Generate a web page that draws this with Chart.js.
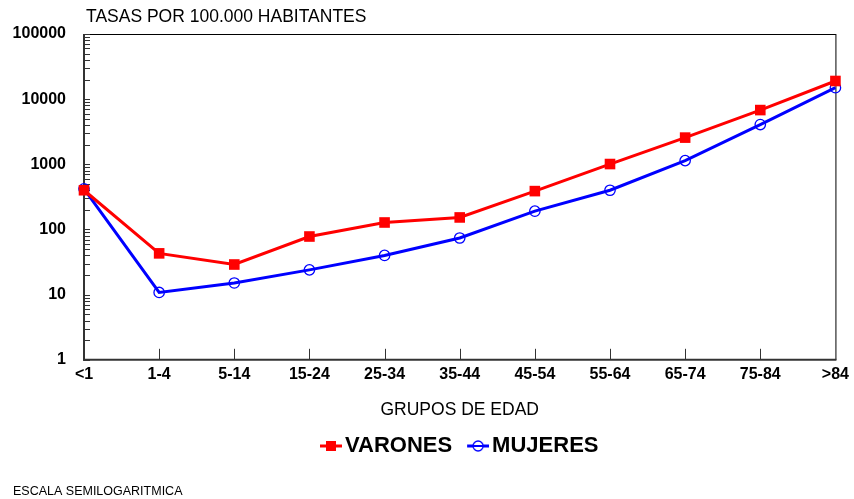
<!DOCTYPE html>
<html>
<head>
<meta charset="utf-8">
<script src="https://cdn.jsdelivr.net/npm/chart.js@4.4.1/dist/chart.umd.min.js"></script>
<style>
  body { margin: 0; background: #fff; }
  canvas { display: block; }
</style>
</head>
<body>
<canvas id="chart" width="854" height="499"></canvas>
<script>
// --- Data ---
const ageGroups = ['<1', '1-4', '5-14', '15-24', '25-34', '35-44', '45-54', '55-64', '65-74', '75-84', '>84'];
const varones = [400, 43, 29, 78, 128, 153, 388, 1010, 2570, 6800, 19000];
const mujeres = [420, 10.8, 15.1, 24, 40, 74, 191, 400, 1140, 4080, 15000];
const yTicks = [1, 10, 100, 1000, 10000, 100000];

const FONT = "'Liberation Sans', Arial, sans-serif";

// legend symbol: line with marker, drawn in the right part of the image
// so that it sits close to the label text
function legendSymbol(color, type) {
    const c = document.createElement('canvas');
    c.width = 37; c.height = 14;
    const g = c.getContext('2d');
    const x0 = 15, cx = 26;
    g.strokeStyle = color;
    g.lineWidth = 3;
    g.beginPath(); g.moveTo(x0, 7); g.lineTo(37, 7); g.stroke();
    if (type === 'square') {
        g.fillStyle = color;
        g.fillRect(cx - 5, 2, 10, 10);
    } else {
        g.lineWidth = 1.3;
        g.fillStyle = '#fff';
        g.beginPath(); g.arc(cx, 7, 5, 0, Math.PI * 2); g.fill(); g.stroke();
        g.lineWidth = 2;
        g.beginPath(); g.moveTo(cx - 5, 7); g.lineTo(cx + 5, 7); g.stroke();
    }
    return c;
}

// frame, inner ticks and loose texts
const framePlugin = {
    id: 'frame',
    afterLayout(chart) {
        // nudge the legend a little to the left, as in the original
        if (chart.legend) {
            chart.legend.left -= 4;
            chart.legend.right -= 4;
        }
    },
    beforeDatasetsDraw(chart) {
        const { ctx, chartArea: a, scales } = chart;
        const x = scales.x, y = scales.y;
        ctx.save();
        const seg = (x1, y1, x2, y2) => { ctx.beginPath(); ctx.moveTo(x1, y1); ctx.lineTo(x2, y2); ctx.stroke(); };

        ctx.strokeStyle = '#000';
        ctx.lineWidth = 1;
        seg(a.left, a.top + 0.5, a.right + 0.5, a.top + 0.5);
        seg(a.right + 0.5, a.top, a.right + 0.5, a.bottom);

        // minor/major ticks on the log axis, pointing inside
        ctx.strokeStyle = '#333';
        for (let d = 1; d < 100000; d *= 10) {
            for (let m = 1; m <= 10; m++) {
                const py = Math.round(y.getPixelForValue(d * m)) + 0.5;
                seg(a.left, py, a.left + 6, py);
            }
        }
        // category ticks
        for (let i = 1; i < ageGroups.length - 1; i++) {
            const px = Math.round(x.getPixelForValue(i)) + 0.5;
            seg(px, a.bottom, px, a.bottom - 11);
        }
        // left and bottom axes
        ctx.lineWidth = 2;
        seg(a.left, a.top, a.left, a.bottom + 1);
        seg(a.left - 1, a.bottom, a.right + 1, a.bottom);
        ctx.restore();
    },
    afterDraw(chart) {
        const ctx = chart.ctx;
        ctx.save();
        ctx.fillStyle = '#000';
        ctx.textBaseline = 'middle';
        ctx.textAlign = 'left';
        ctx.font = '17.5px ' + FONT;
        ctx.fillText('TASAS POR 100.000 HABITANTES', 86, 17);
        ctx.font = '12.5px ' + FONT;
        ctx.fillText('ESCALA SEMILOGARITMICA', 13, 492);
        ctx.restore();
    }
};

new Chart(document.getElementById('chart'), {
    type: 'line',
    data: {
        labels: ageGroups,
        datasets: [{
            label: 'VARONES',
            data: varones,
            borderColor: '#ff0000',
            backgroundColor: '#ff0000',
            borderWidth: 3,
            pointStyle: 'rect',
            pointRadius: 7.5,
            pointBorderWidth: 0,
            pointHoverRadius: 7.5,
            clip: false,
            tension: 0
        }, {
            label: 'MUJERES',
            data: mujeres,
            borderColor: '#0000ff',
            backgroundColor: 'rgba(255,255,255,0)',
            borderWidth: 3,
            pointStyle: 'circle',
            pointRadius: 5.2,
            pointBorderWidth: 1.3,
            pointHoverRadius: 5.2,
            clip: false,
            tension: 0
        }]
    },
    options: {
        responsive: false,
        animation: false,
        layout: { padding: { top: 34, right: 15, left: 0, bottom: 32 } },
        plugins: {
            legend: {
                position: 'bottom',
                fullSize: false,
                labels: {
                    usePointStyle: true,
                    pointStyleWidth: 21,
                    color: '#000',
                    font: { family: FONT, size: 22, weight: 'bold' },
                    padding: 8,
                    generateLabels(chart) {
                        return [
                            { text: 'VARONES', pointStyle: legendSymbol('#ff0000', 'square'), fontColor: '#000', datasetIndex: 0, lineWidth: 0, strokeStyle: 'rgba(0,0,0,0)', fillStyle: 'rgba(0,0,0,0)' },
                            { text: 'MUJERES', pointStyle: legendSymbol('#0000ff', 'circle'), fontColor: '#000', datasetIndex: 1, lineWidth: 0, strokeStyle: 'rgba(0,0,0,0)', fillStyle: 'rgba(0,0,0,0)' }
                        ];
                    }
                }
            },
            tooltip: { enabled: false }
        },
        scales: {
            x: {
                offset: false,
                grid: { display: false, drawTicks: false, tickLength: 0 },
                border: { display: false },
                ticks: {
                    color: '#000',
                    font: { family: FONT, size: 16, weight: 'bold' },
                    maxRotation: 0,
                    autoSkip: false,
                    padding: 5
                },
                title: {
                    display: true,
                    text: 'GRUPOS DE EDAD',
                    color: '#000',
                    font: { family: FONT, size: 17.5 },
                    padding: { top: 11, bottom: 6 }
                }
            },
            y: {
                type: 'logarithmic',
                min: 1,
                max: 100000,
                grid: { display: false, drawTicks: false, tickLength: 0 },
                border: { display: false },
                afterBuildTicks(scale) {
                    scale.ticks = yTicks.map(v => ({ value: v }));
                },
                afterFit(scale) {
                    scale.width = 84;
                },
                ticks: {
                    color: '#000',
                    font: { family: FONT, size: 16, weight: 'bold' },
                    padding: 18,
                    callback: v => String(v)
                }
            }
        }
    },
    plugins: [framePlugin]
});
</script>
</body>
</html>
